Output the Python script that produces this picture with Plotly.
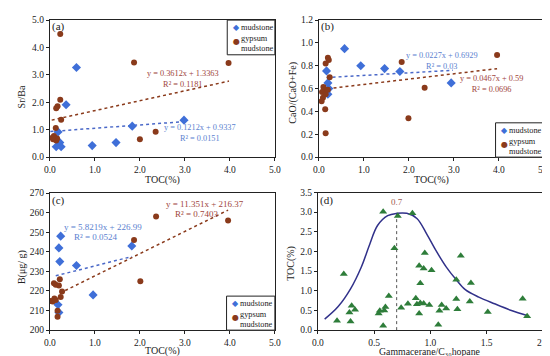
import plotly.graph_objects as go

# ---------------- data ----------------
# (a) Sr/Ba vs TOC
a_mud_x = [0.59, 0.36, 0.18, 0.22, 0.14, 0.25, 0.94, 1.47, 1.83, 2.98]
a_mud_y = [3.27, 1.91, 0.92, 0.53, 0.38, 0.38, 0.42, 0.53, 1.13, 1.35]
a_gyp_x = [0.23, 1.87, 3.97, 0.23, 0.17, 0.14, 0.25, 0.13, 0.11, 0.07, 0.14, 0.09, 0.16, 0.06, 2.00, 2.35]
a_gyp_y = [4.49, 3.45, 3.43, 2.09, 1.86, 1.78, 1.36, 1.06, 0.71, 0.65, 0.61, 0.77, 0.68, 0.72, 0.65, 0.93]
a_fit = {"mud": (0.1212, 0.9337, 0.01, 2.98), "gyp": (0.3612, 1.3363, 0.04, 3.98)}
a_eq = {"mud": ("y = 0.1212x + 0.9337", "R² = 0.0151"), "gyp": ("y = 0.3612x + 1.3363", "R² = 0.1181")}

# (b) CaO/(CaO+Fe) vs TOC
b_mud_x = [0.57, 0.93, 1.46, 1.80, 2.94, 0.17, 0.20, 0.20, 0.22]
b_mud_y = [0.95, 0.80, 0.775, 0.75, 0.65, 0.755, 0.65, 0.55, 0.60]
b_gyp_x = [3.96, 1.84, 2.35, 1.99, 0.20, 0.22, 0.15, 0.24, 0.10, 0.13, 0.07, 0.15, 0.09, 0.06, 0.14, 0.15, 0.20]
b_gyp_y = [0.894, 0.834, 0.607, 0.34, 0.87, 0.85, 0.82, 0.70, 0.615, 0.59, 0.57, 0.55, 0.52, 0.49, 0.42, 0.21, 0.59]
b_fit = {"mud": (0.0227, 0.6929, 0.17, 2.98), "gyp": (0.0467, 0.59, 0.06, 3.96)}
b_eq = {"mud": ("y = 0.0227x + 0.6929", "R² = 0.03"), "gyp": ("y = 0.0467x + 0.59", "R² = 0.0696")}

# (c) B vs TOC
c_mud_x = [0.24, 0.20, 0.22, 0.59, 1.82, 0.96, 0.18, 0.20]
c_mud_y = [248, 242, 235, 233, 243, 218, 213, 209]
c_gyp_x = [2.36, 3.96, 1.87, 2.01, 0.22, 0.09, 0.13, 0.20, 0.27, 0.24, 0.10, 0.13, 0.02, 0.06, 0.17, 0.17]
c_gyp_y = [258, 256, 246, 225, 226, 224, 223.2, 222.8, 219.7, 216.9, 216.2, 215.4, 214.9, 214.6, 209.9, 206.8]
c_fit = {"mud": (5.8219, 226.99, 0.13, 1.82), "gyp": (11.351, 216.37, 0.22, 3.96)}
c_eq = {"mud": ("y = 5.8219x + 226.99", "R² = 0.0524"), "gyp": ("y = 11.351x + 216.37", "R² = 0.7403")}

# (d) TOC vs Gammacerane/C30 hopane
d_x = [0.58, 0.71, 0.84, 0.68, 0.95, 1.27, 0.23, 0.90, 0.94, 1.01, 1.23, 1.36, 0.91,
       0.63, 0.87, 1.23, 1.82, 1.35, 0.80, 0.88, 0.91, 0.94, 0.99, 1.10, 1.14, 1.24,
       1.51, 1.08, 0.90, 0.74, 0.60, 0.59, 0.55, 0.54, 0.30, 0.33, 0.28, 0.29, 0.17,
       0.58, 1.07, 1.86]
d_y = [3.01, 2.90, 2.97, 2.08, 1.96, 1.89, 1.43, 1.64, 1.57, 1.52, 1.28, 1.20, 1.19,
       0.87, 0.81, 0.79, 0.80, 0.73, 0.67, 0.66, 0.69, 0.68, 0.64, 0.64, 0.55, 0.53,
       0.46, 0.49, 0.42, 0.57, 0.59, 0.50, 0.49, 0.42, 0.62, 0.52, 0.45, 0.22, 0.24,
       0.11, 0.14, 0.35]
d_curve_x = [0.06, 0.18, 0.29, 0.385, 0.46, 0.53, 0.62, 0.70, 0.79, 0.88, 0.97, 1.05,
             1.14, 1.23, 1.31, 1.43, 1.57, 1.72, 1.86]
d_curve_y = [0.28, 0.60, 1.05, 1.60, 2.18, 2.66, 2.91, 2.97, 2.97, 2.84, 2.43, 2.02,
             1.61, 1.28, 1.03, 0.84, 0.67, 0.50, 0.37]
d_peak = 0.7

# ---------------- styles ----------------
FONT = "Liberation Serif"
MUD_C = "#3f6fd8"
GYP_C = "#8a3a1b"
MUD_LINE = "#4a68c8"
GYP_LINE = "#8a3a1b"
MUD_TXT = "#5b7fd0"
GYP_TXT = "#a0453c"
TRI_C = "#2e7d3a"
CURVE_C = "#31318a"
TXT = "#222222"

W, H = 550, 356


def px_x(p):
    return p / W


def px_y(p):
    return 1 - p / H


fig = go.Figure()

# panel domains in pixels: (x0, x1, ytop, ybottom)
panels = {
    "a": (36.7, 266.7, 7.3, 148.3),
    "b": (311.7, 541.7, 7.3, 148.3),
    "c": (36.7, 266.7, 185.3, 326.3),
    "d": (310.7, 540.7, 184.7, 326.3),
}
axis_ids = {"a": ("x", "y"), "b": ("x2", "y2"), "c": ("x3", "y3"), "d": ("x4", "y4")}


def add_scatter_panel(key, mx, my, gx, gy, fit):
    xa, ya = axis_ids[key]
    for k, col in (("mud", MUD_LINE), ("gyp", GYP_LINE)):
        m, b, x0, x1 = fit[k]
        xs = [x0, x1]
        fig.add_trace(go.Scatter(x=xs, y=[m * v + b for v in xs], mode="lines",
                                 line=dict(color=col, width=1.5, dash="dot"),
                                 xaxis=xa, yaxis=ya, showlegend=False, hoverinfo="skip"))
    fig.add_trace(go.Scatter(x=mx, y=my, mode="markers", name="mudstone",
                             marker=dict(symbol="diamond", size=7, color=MUD_C),
                             xaxis=xa, yaxis=ya, showlegend=False))
    fig.add_trace(go.Scatter(x=gx, y=gy, mode="markers", name="gypsum mudstone",
                             marker=dict(symbol="circle", size=6, color=GYP_C),
                             xaxis=xa, yaxis=ya, showlegend=False))


add_scatter_panel("a", a_mud_x, a_mud_y, a_gyp_x, a_gyp_y, a_fit)
add_scatter_panel("b", b_mud_x, b_mud_y, b_gyp_x, b_gyp_y, b_fit)
add_scatter_panel("c", c_mud_x, c_mud_y, c_gyp_x, c_gyp_y, c_fit)

# panel d
fig.add_trace(go.Scatter(x=[d_peak, d_peak], y=[0, 2.96], mode="lines",
                         line=dict(color="#555555", width=1, dash="dot"),
                         xaxis="x4", yaxis="y4", showlegend=False, hoverinfo="skip"))
fig.add_trace(go.Scatter(x=d_curve_x, y=d_curve_y, mode="lines",
                         line=dict(color=CURVE_C, width=1.5, shape="spline", smoothing=1.0),
                         xaxis="x4", yaxis="y4", showlegend=False))
fig.add_trace(go.Scatter(x=d_x, y=d_y, mode="markers",
                         marker=dict(symbol="triangle-up", size=7, color=TRI_C),
                         xaxis="x4", yaxis="y4", showlegend=False))

tickfont = dict(family=FONT, size=9.5, color=TXT)


def axis(domain, rng, dtick, fmt, anchor):
    return dict(domain=domain, range=rng, dtick=dtick, tick0=rng[0], tickformat=fmt,
                showgrid=False, zeroline=False, showline=True, linecolor=TXT,
                linewidth=1, mirror=True, ticks="outside", ticklen=3, tickcolor=TXT,
                tickfont=tickfont, anchor=anchor)


specs = {
    "a": ([0, 5], 1, ".1f", [0, 5], 1, ".1f"),
    "b": ([0, 5], 1, ".1f", [0, 1.2], 0.2, ".1f"),
    "c": ([0, 5], 1, ".1f", [200, 270], 10, "d"),
    "d": ([0, 2], 0.5, ".1f", [0, 3.5], 0.5, ".1f"),
}
names = {"a": ("xaxis", "yaxis"), "b": ("xaxis2", "yaxis2"),
         "c": ("xaxis3", "yaxis3"), "d": ("xaxis4", "yaxis4")}
layout_axes = {}
for k, (xr, xd, xf, yr, yd, yf) in specs.items():
    x0, x1, yt_px, yb_px = panels[k]
    xa, ya = axis_ids[k]
    layout_axes[names[k][0]] = axis([px_x(x0), px_x(x1)], xr, xd, xf, ya)
    layout_axes[names[k][1]] = axis([px_y(yb_px), px_y(yt_px)], yr, yd, yf, xa)
fig.update_layout(**layout_axes)

annotations = []
shapes = []


def text_at(x, y, text, size, color=TXT, xanchor="center", angle=0):
    annotations.append(dict(x=px_x(x), y=px_y(y), xref="paper", yref="paper", text=text,
                            showarrow=False, xanchor=xanchor, yanchor="middle",
                            textangle=angle, borderpad=0,
                            font=dict(family=FONT, size=size, color=color)))


# axis titles
text_at(151.7, 171.5, "TOC(%)", 10)
text_at(426.7, 171.5, "TOC(%)", 10)
text_at(151.7, 347.5, "TOC(%)", 10)
text_at(425.7, 348.5, "Gammacerane/C₃₀hopane", 9.8)
text_at(7.3, 86.7, "Sr/Ba", 10, angle=-90)
text_at(285.5, 81.7, "CaO/(CaO+Fe)", 10, angle=-90)
text_at(8.3, 261.3, "B(μg/ g)", 10, angle=-90)
text_at(283.3, 258, "TOC(%)", 10, angle=-90)

# panel labels
text_at(45, 14, "(a)", 11)
text_at(320.5, 14, "(b)", 11)
text_at(45, 192.5, "(c)", 11)
text_at(319.5, 192.5, "(d)", 11)

# regression equations (two centred lines per fit)
text_at(173, 67.7, "<br>".join(a_eq["gyp"]), 8.3, GYP_TXT)
text_at(190, 123.5, "<br>".join(a_eq["mud"]), 8.3, MUD_TXT)
text_at(437.7, 49.6, "<br>".join(b_eq["mud"]), 8.3, MUD_TXT)
text_at(488.3, 73, "<br>".join(b_eq["gyp"]), 8.3, GYP_TXT)
text_at(90.7, 220.5, c_eq["mud"][0], 9, MUD_TXT)
text_at(84, 230.7, c_eq["mud"][1], 9, MUD_TXT)
text_at(195, 196.3, c_eq["gyp"][0], 9, GYP_TXT)
text_at(187, 206.5, c_eq["gyp"][1], 9, GYP_TXT)

# peak label in d
annotations.append(dict(x=d_peak, y=3.1, xref="x4", yref="y4", text="0.7", showarrow=False,
                        yanchor="bottom", borderpad=0,
                        font=dict(family=FONT, size=9, color="#a05a50")))


# manual legends (box + symbols + text)
def legend_box(x0, y0, x1, y1):
    shapes.append(dict(type="rect", xref="paper", yref="paper", x0=px_x(x0), x1=px_x(x1),
                       y0=px_y(y1), y1=px_y(y0), line=dict(color=TXT, width=1),
                       fillcolor="white", layer="above"))
    mx = x0 + 9.5
    tx = x0 + 13
    annotations.append(dict(x=px_x(mx), y=px_y(y0 + 7.5), xref="paper", yref="paper",
                            text="◆", showarrow=False, xanchor="center", yanchor="middle",
                            borderpad=0,
                            font=dict(family="DejaVu Sans", size=8, color=MUD_C)))
    text_at(tx, y0 + 7.5, "mudstone", 8.3, xanchor="left")
    annotations.append(dict(x=px_x(mx), y=px_y(y0 + 22.3), xref="paper", yref="paper",
                            text="●", showarrow=False, xanchor="center", yanchor="middle",
                            borderpad=0,
                            font=dict(family="DejaVu Sans", size=8, color=GYP_C)))
    text_at(tx, y0 + 19.3, "gypsum", 8.3, xanchor="left")
    text_at(tx, y0 + 29.5, "mudstone", 8.3, xanchor="left")


legend_box(218, 7.3, 266.7, 43)
legend_box(492.3, 113, 541.7, 148.3)
legend_box(217.3, 291.3, 266.7, 326.3)

fig.update_layout(width=W, height=H, margin=dict(l=0, r=0, t=0, b=0),
                  paper_bgcolor="white", plot_bgcolor="white",
                  annotations=annotations, shapes=shapes, showlegend=False,
                  font=dict(family=FONT))

fig.write_html("out.html")
